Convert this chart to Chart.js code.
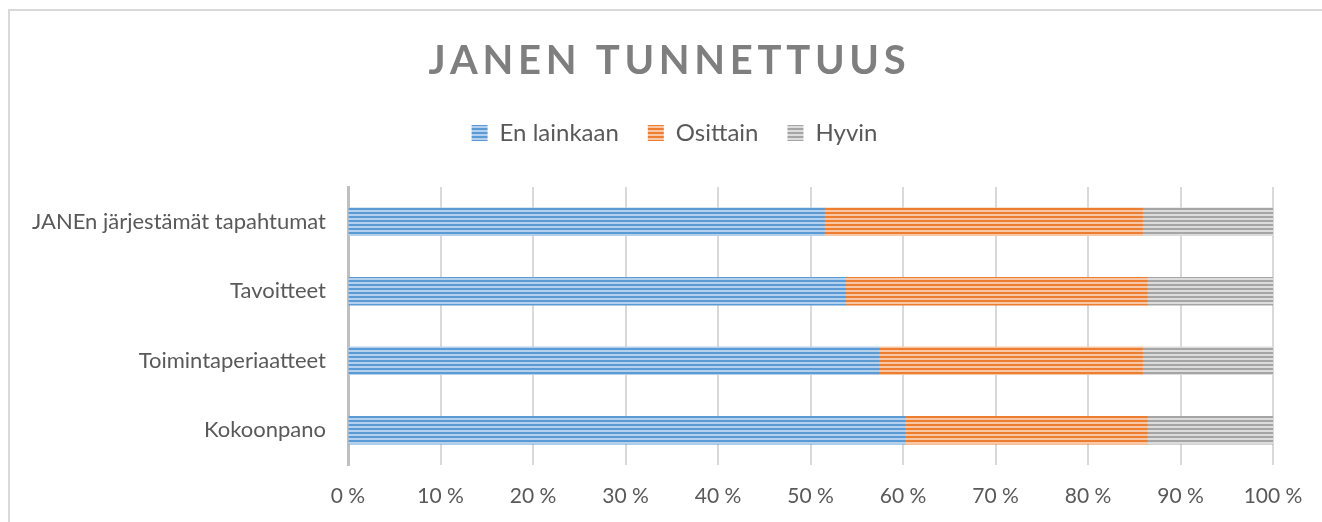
<!DOCTYPE html>
<html>
<head>
<meta charset="utf-8">
<script src="https://cdn.jsdelivr.net/npm/chart.js@4"></script>
<style>
  html, body { margin: 0; padding: 0; background: #fff; overflow: hidden; }
  #frame { position: absolute; left: 8px; top: 9px; width: 1400px; height: 600px;
           border-top: 2px solid #d9d9d9; border-left: 2px solid #d9d9d9; }
  #wrap { position: absolute; left: 0; top: 0; width: 1322px; height: 522px; }
</style>
</head>
<body>
<div id="frame"></div>
<div id="wrap"><canvas id="myChart"></canvas></div>
<script>
// chart data
var categories = ['JANEn järjestämät tapahtumat', 'Tavoitteet', 'Toimintaperiaatteet', 'Kokoonpano'];
var seriesNames = ['En lainkaan', 'Osittain', 'Hyvin'];
var enLainkaan = [51.5, 53.8, 57.4, 60.2];
var osittain = [34.4, 32.6, 28.5, 26.2];
var hyvin = [14.1, 13.6, 14.1, 13.6];
var xTickStep = 10;

// horizontal stripe fill like the original
function stripes(dark, light) {
  var c = document.createElement('canvas');
  c.width = 4; c.height = 4;
  var x = c.getContext('2d');
  x.fillStyle = light;
  x.fillRect(0, 0, 4, 4);
  x.fillStyle = dark;
  x.fillRect(0, 0, 4, 2);
  return x.createPattern(c, 'repeat');
}

var blue = stripes('#5b9bd5', '#b4d0ec');
var orange = stripes('#ed7d31', '#f7c7a6');
var grey = stripes('#a5a5a5', '#dcdcdc');

// spaced title, title/legend nudged right, extra room under legend
var tweaks = {
  id: 'tweaks',
  beforeInit(chart) {
    var lg = chart.legend;
    var fit = lg.fit;
    lg.fit = function() {
      fit.call(this);
      this.height += 32;
    };
    var lgDraw = lg.draw;
    lg.draw = function(area) {
      this.ctx.save();
      this.ctx.translate(34, 0);
      lgDraw.call(this, area);
      this.ctx.restore();
    };
    var tb = chart.titleBlock;
    var draw = tb.draw;
    tb.draw = function(area) {
      var ctx = this.ctx;
      ctx.save();
      ctx.translate(29, 0);
      ctx.letterSpacing = '4.7px';
      draw.call(this, area);
      ctx.restore();
    };
  }
};

var ctx = document.getElementById('myChart').getContext('2d');
var chart = new Chart(ctx, {
  type: 'bar',
  data: {
    labels: categories,
    datasets: [{
      label: seriesNames[0],
      data: enLainkaan,
      backgroundColor: blue,
      borderColor: 'rgba(0,0,0,0)',
      borderWidth: 0
    }, {
      label: seriesNames[1],
      data: osittain,
      backgroundColor: orange,
      borderColor: 'rgba(0,0,0,0)',
      borderWidth: 0
    }, {
      label: seriesNames[2],
      data: hyvin,
      backgroundColor: grey,
      borderColor: 'rgba(0,0,0,0)',
      borderWidth: 0
    }]
  },
  options: {
    indexAxis: 'y',
    responsive: true,
    maintainAspectRatio: false,
    animation: false,
    barThickness: 28,
    layout: { padding: { left: 8, right: 49, top: 0, bottom: 0 } },
    plugins: {
      title: {
        display: true,
        text: 'JANEN TUNNETTUUS',
        color: '#7f7f7f',
        font: { family: 'Lato', size: 40, weight: 'bold' },
        padding: { top: 37, bottom: 7 }
      },
      legend: {
        position: 'top',
        labels: {
          color: '#595959',
          font: { family: 'Lato', size: 24 },
          boxWidth: 16,
          boxHeight: 16,
          padding: 29
        }
      },
      tooltip: { enabled: false }
    },
    scales: {
      x: {
        stacked: true,
        min: 0,
        max: 100,
        afterFit: function(scale) { scale.height = 57; },
        ticks: {
          stepSize: xTickStep,
          color: '#595959',
          font: { family: 'Lato', size: 21 },
          padding: 19,
          callback: function(v) { return v + ' %'; }
        },
        grid: { color: '#d9d9d9', lineWidth: 2, drawTicks: false },
        border: { display: false }
      },
      y: {
        stacked: true,
        afterFit: function(scale) { scale.width = 340; },
        ticks: {
          color: '#595959',
          font: { family: 'Lato', size: 22 },
          padding: 22
        },
        grid: { display: false, drawTicks: false },
        border: { display: true, color: '#bfbfbf', width: 3 }
      }
    }
  },
  plugins: [tweaks]
});
</script>
</body>
</html>
